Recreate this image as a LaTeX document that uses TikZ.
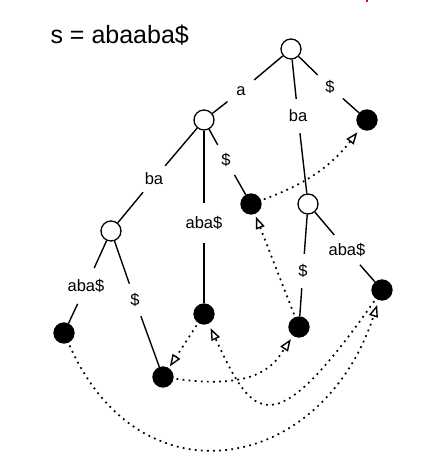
\documentclass[tikz,border=0pt]{standalone}
\usepackage{fontspec}
\setmainfont{Liberation Sans}
\usetikzlibrary{arrows.meta}
\begin{document}
\begin{tikzpicture}[x=1pt,y=1pt,
  inode/.style={circle,draw,line width=1.3pt,fill=white,minimum size=20pt,inner sep=0pt},
  lnode/.style={circle,draw,line width=1.3pt,fill=black,minimum size=20pt,inner sep=0pt},
  elab/.style={circle,inner sep=0pt,minimum size=34pt,font=\fontsize{16.5}{18}\selectfont},
  tedge/.style={line width=1.4pt},
  slink/.style={line width=1.7pt,dash pattern=on 1.8pt off 4.3pt,
    -{Triangle[open,length=12pt,width=9pt,line width=1.4pt]},shorten <=3pt,shorten >=4pt}]
\useasboundingbox (0,0) rectangle (426,460);
\fill[red] (366,458) rectangle (368,460);
\node[anchor=base west,font=\fontsize{25}{30}\selectfont] (title) at (47,416.5) {s = abaaba\$};
% tree nodes
\node[inode] (root) at (291,411) {};
\node[inode] (anode) at (204,340) {};
\node[lnode] (leaf7) at (367,340) {};
\node[inode] (banode) at (308,256) {};
\node[lnode] (leaf6) at (251,256) {};
\node[inode] (abanode) at (111,229) {};
\node[lnode] (leaf3) at (204,146) {};
\node[lnode] (leaf1) at (64,127) {};
\node[lnode] (leaf4) at (163,83) {};
\node[lnode] (leaf5) at (299,133) {};
\node[lnode] (leaf2) at (382,170) {};
% edge labels
\node[elab] (la) at (241,369) {a};
\node[elab] (ld7) at (330,373) {\$};
\node[elab] (lba1) at (298,344) {ba};
\node[elab] (lba2) at (154,281) {ba};
\node[elab] (laba3) at (204,237) {aba\$};
\node[elab] (ld6) at (226,300) {\$};
\node[elab] (laba1) at (86,174) {aba\$};
\node[elab] (ld4) at (135,160) {\$};
\node[elab] (ld5) at (303,189) {\$};
\node[elab] (laba2) at (347,210) {aba\$};
% tree edges
\draw[tedge] (root) -- (la);   \draw[tedge] (la) -- (anode);
\draw[tedge] (root) -- (ld7);  \draw[tedge] (ld7) -- (leaf7);
\draw[tedge] (root) -- (lba1); \draw[tedge] (lba1) -- (banode);
\draw[tedge] (anode) -- (lba2); \draw[tedge] (lba2) -- (abanode);
\draw[tedge] (anode) -- (laba3); \draw[tedge] (laba3) -- (leaf3);
\draw[tedge] (anode) -- (ld6); \draw[tedge] (ld6) -- (leaf6);
\draw[tedge] (abanode) -- (laba1); \draw[tedge] (laba1) -- (leaf1);
\draw[tedge] (abanode) -- (ld4); \draw[tedge] (ld4) -- (leaf4);
\draw[tedge] (banode) -- (ld5); \draw[tedge] (ld5) -- (leaf5);
\draw[tedge] (banode) -- (laba2); \draw[tedge] (laba2) -- (leaf2);
% suffix links
\draw[slink,shorten >=5pt] (leaf1) to[out=-66,in=252,distance=180pt] (leaf2);
\draw[slink,shorten >=5pt] (leaf2) to[out=235,in=295,out distance=182pt,in distance=105pt] (leaf3);
\draw[slink,shorten >=2pt] (leaf3) -- (leaf4);
\draw[slink,shorten >=4pt] (leaf4) to[out=-8,in=236,out distance=90pt,in distance=30pt] (leaf5);
\draw[slink,shorten >=3pt] (leaf5) -- (leaf6);
\draw[slink,shorten >=5pt] (leaf6) to[out=20,in=232] (leaf7);
\end{tikzpicture}
\end{document}
